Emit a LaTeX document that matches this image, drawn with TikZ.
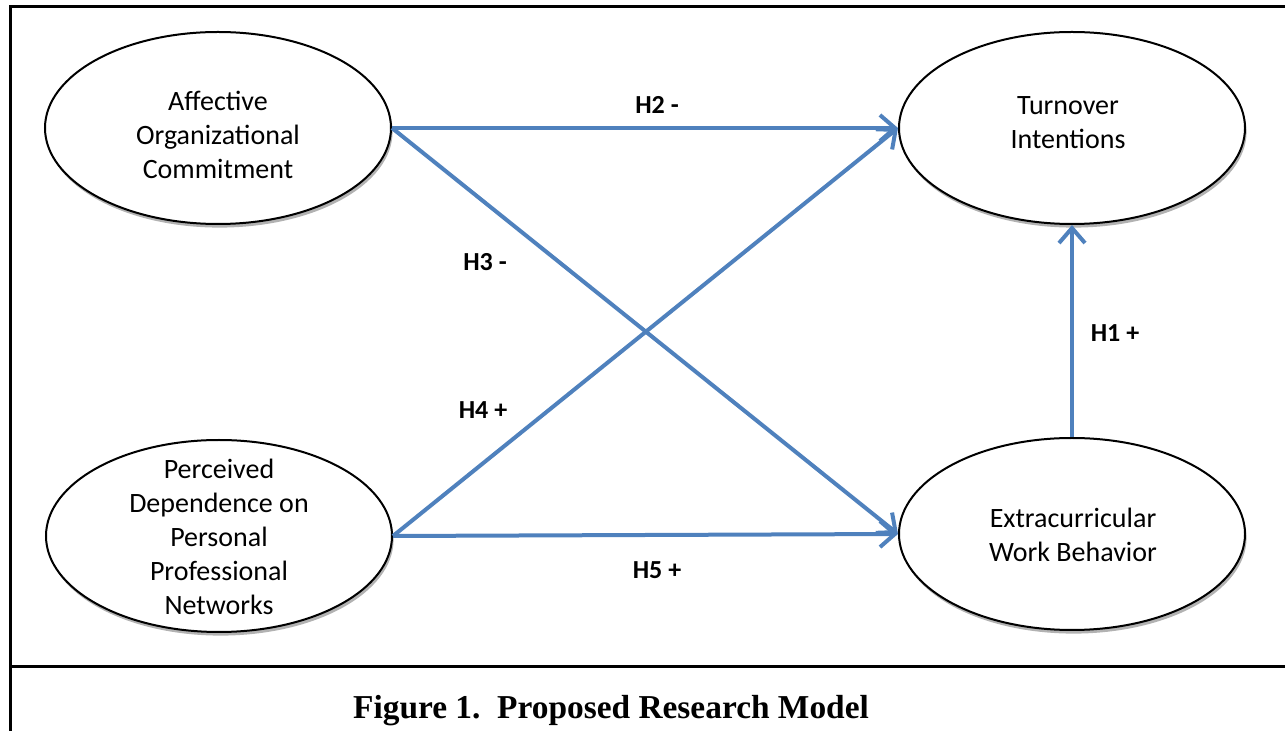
\documentclass[tikz,border=0pt]{standalone}
\usepackage{fontspec}
\setmainfont{Liberation Serif}
\newfontfamily\carl{Carlito}
\usetikzlibrary{shapes.geometric,arrows.meta,shadows}
\definecolor{arrowblue}{HTML}{4F81BD}
\tikzset{
  ell/.style={ellipse, draw=black, line width=1pt, fill=white,
    minimum width=173pt, minimum height=96pt, inner sep=0pt,
    drop shadow={shadow xshift=0.8pt, shadow yshift=-1.8pt, opacity=0.3, fill=black}},
  txt/.style={align=center, font=\carl\fontsize{14pt}{17pt}\selectfont, inner sep=0pt},
  hlab/.style={font=\carl\bfseries\fontsize{13pt}{15pt}\selectfont, inner sep=0pt},
  arr/.style={draw=arrowblue, line width=2pt, -{Straight Barb[length=7.5pt,width=13pt,line width=2pt]}},
  frame/.style={line width=1.5pt, black}
}
\begin{document}
\begin{tikzpicture}[x=0.5pt, y=-0.5pt]
\useasboundingbox (0,0) rectangle (1285,731);
% frame
\coordinate (f1) at (1285,7);
\coordinate (f2) at (10,7);
\coordinate (f3) at (10,731);
\coordinate (f4) at (10,666);
\coordinate (f5) at (1285,666);
\draw[frame] (f1) -- (f2) -- (f3);
\draw[frame] (f4) -- (f5);
% ellipses
\node[ell] (A) at (218,128) {};
\node[ell] (B) at (1072,128) {};
\node[ell] (C) at (219,536) {};
\node[ell] (D) at (1072,534) {};
\node[txt] (At) at (218,135) {Affective\\Organizational\\Commitment};
\node[txt] (Bt) at (1068,123) {Turnover\\Intentions};
\node[txt] (Ct) at (219,537) {Perceived\\Dependence on\\Personal\\Professional\\Networks};
\node[txt] (Dt) at (1073,535) {Extracurricular\\Work Behavior};
% arrows
\draw[arr] (A.east) -- (B.west);
\draw[arr] (A.east) -- (D.west);
\draw[arr] (C.east) -- (B.west);
\draw[arr] (C.east) -- (D.west);
\draw[arr] (D.north) -- (B.south);
% labels
\node[hlab] (h2) at (657,105) {H2 -};
\node[hlab] (h3) at (485,262) {H3 -};
\node[hlab] (h4) at (483,410) {H4 +};
\node[hlab] (h5) at (657,570) {H5 +};
\node[hlab] (h1) at (1115,333) {H1 +};
% caption
\node[anchor=base, inner sep=0pt, font=\bfseries\fontsize{16.7pt}{20pt}\selectfont] (cap) at (611,718) {Figure 1.\ \ Proposed Research Model};
\end{tikzpicture}
\end{document}
